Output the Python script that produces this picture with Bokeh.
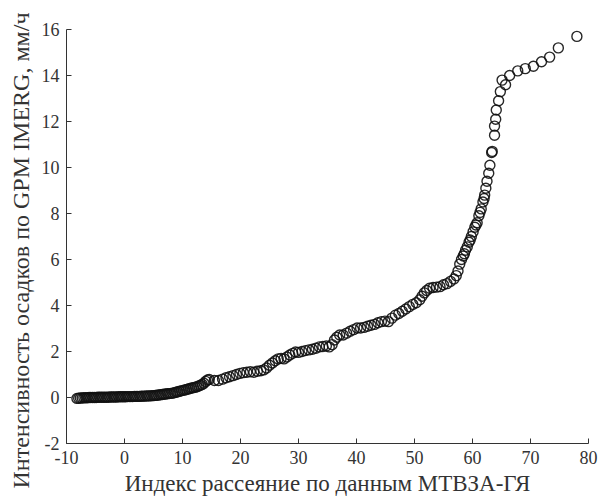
from bokeh.plotting import figure
from bokeh.embed import file_html
from bokeh.resources import INLINE
from bokeh.models import Range1d, FixedTicker, Title

x_vals = [
    -8.2, -7.9, -7.6, -7.3, -7.0, -6.7, -6.4, -6.1, -5.8, -5.5, -5.2, -4.9, -4.6, -4.3, -4.0,
    -3.7, -3.4, -3.1, -2.8, -2.5, -2.2, -1.9, -1.6, -1.3, -1.0, -0.7, -0.4, -0.1, 0.2, 0.5,
    0.8, 1.1, 1.4, 1.7, 2.0, 2.3, 2.6, 2.9, 3.2, 3.5, 3.8, 4.1, 4.4, 4.7, 5.0, 5.3, 5.6, 5.9,
    6.2, 6.5, 6.8, 7.1, 7.4, 7.7, 8.0, 8.3, 8.6, 8.9, 9.2, 9.5, 9.8, 10.1, 10.4, 10.7, 11.0,
    11.3, 11.6, 11.9, 12.2, 12.5, 12.8, 13.1, 13.4, 13.7, 14.0, 14.3, 14.6,
    15.5, 16.2, 16.9, 17.5, 18.1, 18.7, 19.3, 19.9, 20.5, 21.1, 21.7, 22.3, 22.9, 23.5, 24.0,
    24.5, 25.0, 25.5, 26.0, 26.5, 27.0, 27.5, 28.0, 28.5, 29.0, 29.5, 30.0, 30.6, 31.2, 31.8,
    32.4, 33.0, 33.6, 34.2, 34.8, 35.3, 35.8, 36.2, 36.6, 37.1, 37.7, 38.3, 38.9, 39.5, 40.1,
    40.7, 41.3, 41.9, 42.5, 43.1, 43.7, 44.3, 44.9, 45.5, 46.1, 46.7, 47.3, 47.9, 48.5, 49.1,
    49.7, 50.3, 50.9, 51.3, 51.7, 52.1, 52.6, 53.2, 53.8, 54.4, 55.0, 55.6, 56.2, 56.8, 57.2,
    57.5, 57.8, 58.1, 58.4, 58.6, 58.8, 59.1, 59.4, 59.6, 59.8, 60.1, 60.4, 60.6, 60.8, 61.1,
    61.3, 61.5, 61.8, 62.0, 62.1, 62.3, 62.5, 62.8, 63.0, 63.3, 63.4, 63.8, 63.8, 64.0, 64.1,
    64.5, 64.8, 65.7, 65.1, 66.4, 67.8, 69.1, 70.5, 71.9, 73.3, 74.8, 78.0,
]
y_vals = [
    -0.04, -0.03, -0.02, -0.02, -0.01, -0.01, -0.01, 0.0, 0.0, 0.0, 0.0, 0.0, 0.01, 0.01, 0.01,
    0.01, 0.01, 0.01, 0.01, 0.02, 0.02, 0.02, 0.02, 0.02, 0.03, 0.03, 0.03, 0.03, 0.03, 0.04,
    0.04, 0.04, 0.04, 0.05, 0.05, 0.05, 0.05, 0.06, 0.06, 0.06, 0.07, 0.07, 0.07, 0.08, 0.08, 0.09, 0.10, 0.11,
    0.12, 0.13, 0.14, 0.15, 0.16, 0.17, 0.18, 0.19, 0.21, 0.23, 0.25, 0.27, 0.29, 0.31, 0.33, 0.35, 0.37,
    0.39, 0.41, 0.43, 0.45, 0.47, 0.50, 0.53, 0.57, 0.62, 0.70, 0.76, 0.78,
    0.74, 0.74, 0.80, 0.86, 0.90, 0.95, 1.00, 1.05, 1.08, 1.10, 1.12, 1.10, 1.14, 1.16, 1.20,
    1.28, 1.40, 1.50, 1.60, 1.68, 1.70, 1.68, 1.76, 1.85, 1.92, 1.98, 1.96, 2.00, 2.04, 2.07,
    2.10, 2.14, 2.20, 2.22, 2.24, 2.20, 2.30, 2.50, 2.62, 2.72, 2.72, 2.80, 2.88, 2.95, 3.02,
    3.02, 3.05, 3.10, 3.14, 3.18, 3.25, 3.30, 3.32, 3.30, 3.45, 3.58, 3.65, 3.75, 3.85, 3.95,
    4.05, 4.12, 4.25, 4.40, 4.55, 4.65, 4.75, 4.78, 4.80, 4.82, 4.90, 4.95, 5.05, 5.15, 5.30,
    5.50, 5.80, 6.00, 6.15, 6.25, 6.40, 6.55, 6.75, 6.85, 7.00, 7.20, 7.40, 7.50, 7.60, 7.90,
    8.05, 8.20, 8.50, 8.65, 8.80, 9.10, 9.40, 9.75, 10.10, 10.65, 10.70, 11.40, 11.80, 12.10, 12.50,
    12.90, 13.30, 13.60, 13.80, 14.00, 14.20, 14.30, 14.40, 14.60, 14.80, 15.20, 15.70,
]

x_ticks = [-10, 0, 10, 20, 30, 40, 50, 60, 70, 80]
y_ticks = [-2, 0, 2, 4, 6, 8, 10, 12, 14, 16]
x_label = "Индекс рассеяние по данным МТВЗА-ГЯ"
y_label = "Интенсивность осадков по GPM IMERG, мм/ч"

p = figure(width=600, height=499, output_backend="svg", toolbar_location=None,
           x_range=Range1d(-10, 80), y_range=Range1d(-2, 16),
           min_border_left=62, min_border_right=12, min_border_top=29, min_border_bottom=56)
p.outline_line_color = None
p.grid.grid_line_color = None
p.background_fill_color = "white"

p.scatter(x_vals, y_vals, marker="circle", size=10, fill_color=None,
          line_color="#111111", line_width=1.4, line_alpha=0.9)

for ax, ticks in ((p.xaxis[0], x_ticks), (p.yaxis[0], y_ticks)):
    ax.ticker = FixedTicker(ticks=ticks)
    ax.major_label_overrides = {t: str(t) for t in ticks}
    ax.major_label_text_font = "Liberation Serif"
    ax.major_label_text_font_size = "18px"
    ax.major_label_text_color = "#333333"
    ax.axis_line_color = "#333333"
    ax.major_tick_line_color = "#333333"
    ax.major_tick_in = 5
    ax.major_tick_out = 0
    ax.minor_tick_line_color = None
    ax.major_label_standoff = 7

p.xaxis[0].axis_label = x_label
p.xaxis[0].axis_label_text_font = "Liberation Serif"
p.xaxis[0].axis_label_text_font_style = "normal"
p.xaxis[0].axis_label_text_font_size = "23px"
p.xaxis[0].axis_label_text_color = "#333333"
p.xaxis[0].axis_label_standoff = 4

p.add_layout(Title(text=y_label, align="left", offset=-45, standoff=10,
                   text_font="Liberation Serif", text_font_style="normal",
                   text_font_size="24px", text_color="#333333"), "left")

open("out.html", "w").write(file_html(p, INLINE))
